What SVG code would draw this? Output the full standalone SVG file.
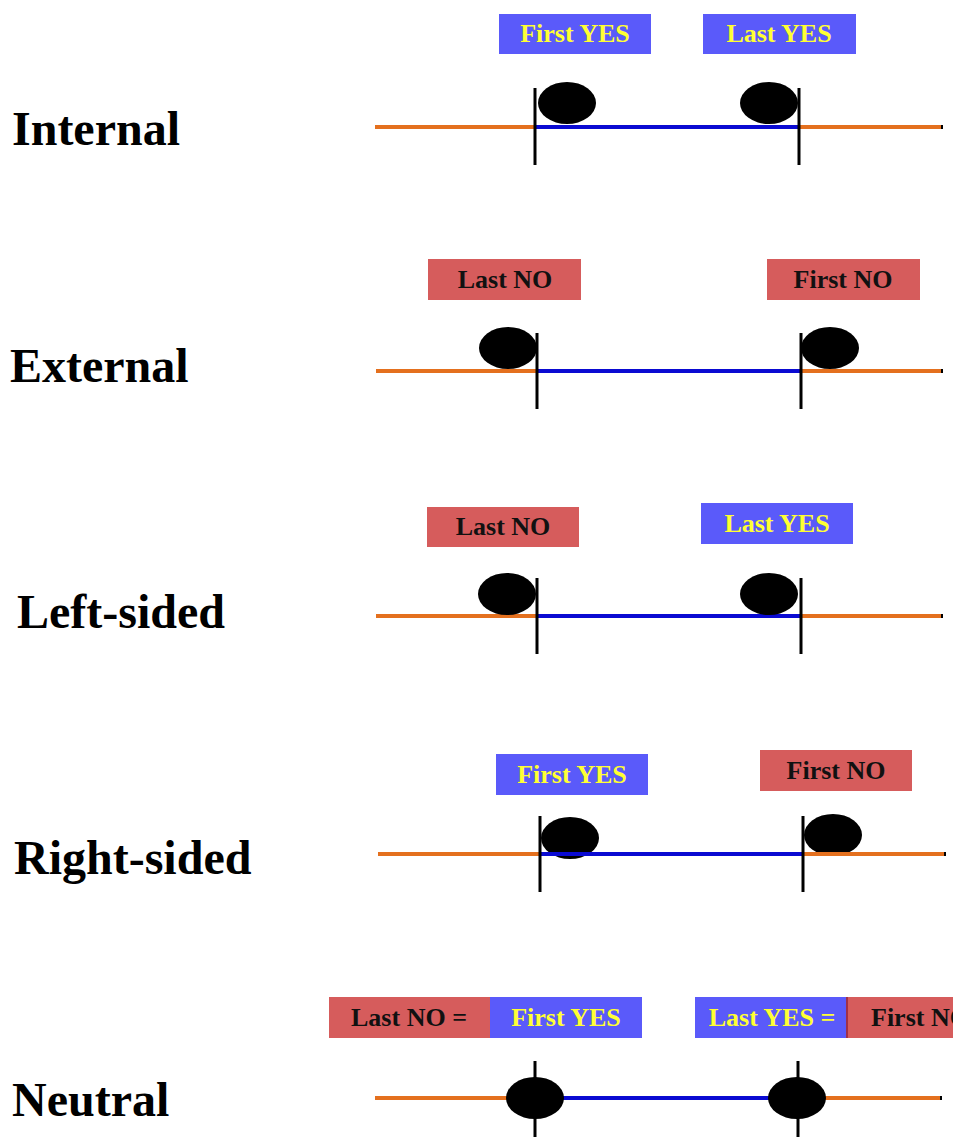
<svg xmlns="http://www.w3.org/2000/svg" width="953" height="1146" viewBox="0 0 953 1146">
<style>
.lbl{font-family:"Liberation Serif","Times New Roman",serif;font-weight:bold;font-size:48px;fill:#000}
.bt{font-family:"Liberation Serif","Times New Roman",serif;font-weight:bold;font-size:26px;text-anchor:middle}
.yes{fill:#5A5AFA}
.no{fill:#D65C5C}
.ty{fill:#FFFF33}
.tn{fill:#111}
.or{stroke:#E4701E;stroke-width:4;fill:none}
.bl{stroke:#0A0AD2;stroke-width:4;fill:none}
.tk{stroke:#000;stroke-width:3;fill:none}
.dot{fill:#000}
</style>
<rect width="953" height="1146" fill="#fff"/>

<!-- Row 1: Internal -->
<g id="connectors-internal">
<line class="or" x1="375" y1="127" x2="943" y2="127"/>
<line class="bl" x1="535" y1="127" x2="799" y2="127"/>
<rect class="dot" x="941" y="125" width="2" height="4"/>
</g>
<g id="internal">
<text class="lbl" x="12" y="145">Internal</text>
<g id="internal-first-yes"><rect class="yes" x="499" y="14" width="152" height="40"/><text class="bt ty" x="575" y="42">First YES</text></g>
<g id="internal-last-yes"><rect class="yes" x="703" y="14" width="153" height="40"/><text class="bt ty" x="779" y="42">Last YES</text></g>
<ellipse class="dot" cx="567" cy="103" rx="29" ry="21"/>
<ellipse class="dot" cx="769" cy="103" rx="29" ry="21"/>
<line class="tk" x1="535" y1="88" x2="535" y2="165"/>
<line class="tk" x1="799" y1="88" x2="799" y2="165"/>
</g>

<!-- Row 2: External -->
<g id="connectors-external">
<line class="or" x1="376" y1="371" x2="943" y2="371"/>
<line class="bl" x1="537" y1="371" x2="801" y2="371"/>
<rect class="dot" x="941" y="369" width="2" height="4"/>
</g>
<g id="external">
<text class="lbl" x="10" y="382">External</text>
<g id="external-last-no"><rect class="no" x="428" y="259" width="153" height="41"/><text class="bt tn" x="505" y="288">Last NO</text></g>
<g id="external-first-no"><rect class="no" x="767" y="259" width="153" height="41"/><text class="bt tn" x="843" y="288">First NO</text></g>
<ellipse class="dot" cx="508" cy="348" rx="29" ry="21"/>
<ellipse class="dot" cx="830" cy="348" rx="29" ry="21"/>
<line class="tk" x1="537" y1="333" x2="537" y2="409"/>
<line class="tk" x1="801" y1="333" x2="801" y2="409"/>
</g>

<!-- Row 3: Left-sided -->
<g id="connectors-left">
<line class="or" x1="376" y1="616" x2="943" y2="616"/>
<line class="bl" x1="537" y1="616" x2="801" y2="616"/>
<rect class="dot" x="941" y="614" width="2" height="4"/>
</g>
<g id="left-sided">
<text class="lbl" x="17" y="628">Left-sided</text>
<g id="left-last-no"><rect class="no" x="427" y="507" width="152" height="40"/><text class="bt tn" x="503" y="535">Last NO</text></g>
<g id="left-last-yes"><rect class="yes" x="701" y="503" width="152" height="41"/><text class="bt ty" x="777" y="532">Last YES</text></g>
<ellipse class="dot" cx="507" cy="594" rx="29" ry="21"/>
<ellipse class="dot" cx="769" cy="594" rx="29" ry="21"/>
<line class="tk" x1="537" y1="578" x2="537" y2="654"/>
<line class="tk" x1="801" y1="578" x2="801" y2="654"/>
</g>

<!-- Row 4: Right-sided -->
<g id="right-sided">
<text class="lbl" x="14" y="874">Right-sided</text>
<g id="right-first-yes"><rect class="yes" x="496" y="754" width="152" height="41"/><text class="bt ty" x="572" y="783">First YES</text></g>
<g id="right-first-no"><rect class="no" x="760" y="750" width="152" height="41"/><text class="bt tn" x="836" y="779">First NO</text></g>
<ellipse class="dot" cx="570" cy="838" rx="29" ry="21"/>
<ellipse class="dot" cx="833" cy="835" rx="29" ry="21"/>
</g>
<g id="connectors-right">
<line class="or" x1="378" y1="854" x2="946" y2="854"/>
<line class="bl" x1="540" y1="854" x2="803" y2="854"/>
<rect class="dot" x="944" y="852" width="2" height="4"/>
<line class="tk" x1="540" y1="816" x2="540" y2="892"/>
<line class="tk" x1="803" y1="816" x2="803" y2="892"/>
</g>

<!-- Row 5: Neutral -->
<g id="connectors-neutral">
<line class="or" x1="375" y1="1098" x2="942" y2="1098"/>
<line class="bl" x1="535" y1="1098" x2="798" y2="1098"/>
<rect class="dot" x="940" y="1096" width="2" height="4"/>
</g>
<g id="neutral">
<text class="lbl" x="12" y="1116">Neutral</text>
<g id="neutral-last-no"><rect class="no" x="329" y="997" width="161" height="41"/><text class="bt tn" x="409" y="1026">Last NO =</text></g>
<g id="neutral-first-yes"><rect class="yes" x="490" y="997" width="152" height="41"/><text class="bt ty" x="566" y="1026">First YES</text></g>
<g id="neutral-last-yes"><rect class="yes" x="695" y="997" width="151" height="41"/><text class="bt ty" x="772" y="1026">Last YES =</text></g>
<rect x="846" y="997" width="2" height="41" fill="#A03048"/>
<g id="neutral-first-no"><rect class="no" x="848" y="997" width="110" height="41"/><text class="bt tn" x="871" y="1026" style="text-anchor:start">First NO</text></g>
<line class="tk" x1="535" y1="1061" x2="535" y2="1137"/>
<line class="tk" x1="798" y1="1061" x2="798" y2="1137"/>
<ellipse class="dot" cx="535" cy="1098" rx="29" ry="21"/>
<ellipse class="dot" cx="797" cy="1098" rx="29" ry="21"/>
</g>
</svg>
